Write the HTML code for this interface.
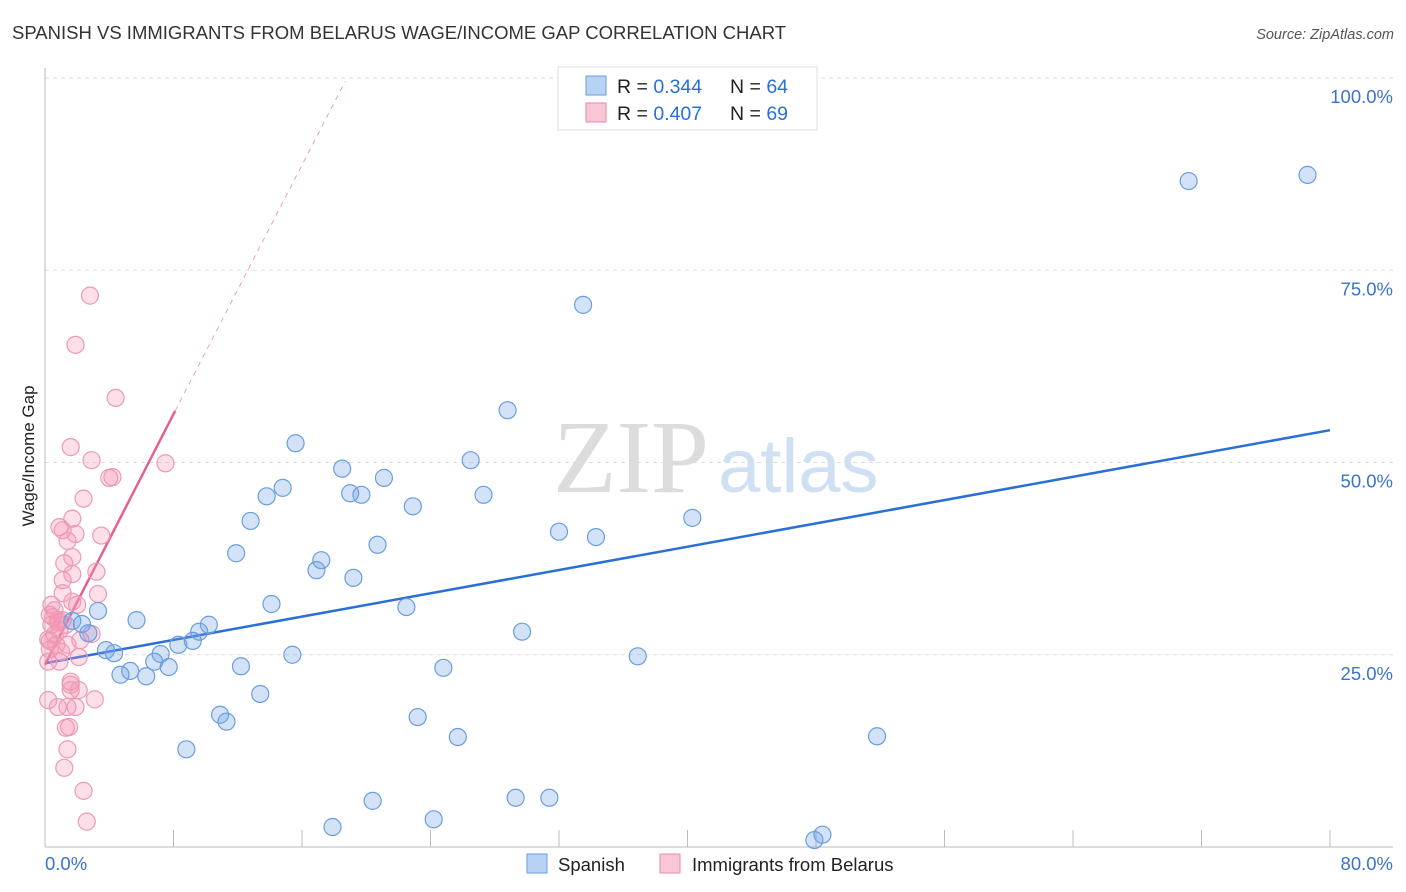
<!DOCTYPE html>
<html><head><meta charset="utf-8"><style>
body{margin:0;background:#fff;font-family:"Liberation Sans",sans-serif;}
svg{display:block}
</style></head><body>
<svg width="1406" height="892" id="chart">
<text x="12" y="39" font-size="18.5" fill="#333">SPANISH VS IMMIGRANTS FROM BELARUS WAGE/INCOME GAP CORRELATION CHART</text>
<text x="1394" y="39" font-size="14.5" fill="#555" font-style="italic" text-anchor="end">Source: ZipAtlas.com</text>
<text x="553" y="492" font-size="104" fill="#dcdcdc" font-family="Liberation Serif,serif">ZIP</text>
<text x="718" y="492" font-size="76" fill="#d0e0f4">atlas</text>
<text transform="translate(34,456) rotate(-90)" font-size="17" fill="#222" text-anchor="middle">Wage/Income Gap</text>
<g id="grid"></g><g id="ticks"></g><g id="lines"></g><g id="pts"></g>
<g>
<rect x="558" y="67" width="259" height="63" fill="#fff" stroke="#ddd"/>
<rect x="586" y="76" width="20" height="19" fill="#b8d2f4" stroke="#6a9ee0"/>
<rect x="586" y="103" width="20" height="19" fill="#f9c6d6" stroke="#e88aa8"/>
<text x="617" y="93" font-size="19.5" fill="#222">R = <tspan fill="#2a6fd6">0.344</tspan></text>
<text x="730" y="93" font-size="19.5" fill="#222">N = <tspan fill="#2a6fd6">64</tspan></text>
<text x="617" y="120" font-size="19.5" fill="#222">R = <tspan fill="#2a6fd6">0.407</tspan></text>
<text x="730" y="120" font-size="19.5" fill="#222">N = <tspan fill="#2a6fd6">69</tspan></text>
</g>
<g>
<rect x="527" y="854" width="20" height="19" fill="#b8d2f4" stroke="#6a9ee0"/>
<text x="558" y="871" font-size="18.5" fill="#222">Spanish</text>
<rect x="660" y="854" width="20" height="19" fill="#f9c6d6" stroke="#e88aa8"/>
<text x="692" y="871" font-size="18.5" fill="#222">Immigrants from Belarus</text>
</g>
<text x="45" y="870" font-size="18.5" fill="#3a72d0">0.0%</text>
<text x="1393" y="870" font-size="18.5" fill="#3a72d0" text-anchor="end">80.0%</text>
</svg>
<script>
const yTicks=[25,50,75,100];
const yTickLabels=["25.0%","50.0%","75.0%","100.0%"];
const blueX=[71.2,78.6,33.5,28.8,15.6,18.5,21.1,26.5,19.7,19.0,14.8,13.8,22.9,27.3,12.8,32.0,34.3,40.3,11.9,20.7,17.2,16.9,19.2,14.1,22.5,3.3,5.7,10.2,9.6,9.2,8.3,2.7,1.7,2.3,29.7,3.8,4.3,7.2,6.8,7.7,15.4,12.2,5.3,4.7,6.3,24.8,36.9,13.4,10.9,11.3,23.2,25.7,8.8,51.8,20.4,29.3,31.4,24.2,17.9,48.4,47.9];
const blueY=[86.6,87.4,70.5,56.8,52.5,49.2,48.0,50.3,45.8,46.0,46.7,45.6,44.3,45.8,42.4,41.0,40.3,42.8,38.2,39.3,37.3,36.0,35.0,31.6,31.2,30.7,29.5,28.9,28.0,26.8,26.3,27.8,29.4,29.0,28.0,25.6,25.2,25.1,24.1,23.4,25.0,23.5,22.9,22.4,22.2,23.3,24.8,19.9,17.2,16.3,16.9,14.3,12.7,14.4,6.0,6.4,6.4,3.6,2.6,1.6,0.9];
const pinkX=[2.8,1.9,4.4,1.6,7.5,2.9,4.0,4.2,2.4,0.9,1.1,1.9,3.5,1.7,1.4,1.7,1.2,3.2,1.7,1.1,3.3,1.1,1.7,2.0,0.4,0.6,0.3,0.8,0.4,0.9,0.6,0.2,0.7,0.3,1.1,1.3,2.9,2.2,1.4,2.1,0.2,0.9,1.6,1.6,1.6,2.1,3.1,0.2,0.8,1.4,1.9,1.3,1.5,1.4,1.2,2.4,2.6,0.5,0.8,1.0,0.3];
const pinkY=[71.7,65.3,58.4,52.0,49.9,50.3,48.0,48.1,45.3,41.6,41.2,40.7,40.5,42.7,39.8,37.7,36.9,35.8,35.5,34.7,32.9,33.0,31.9,31.5,31.5,30.8,30.2,29.5,28.9,28.2,27.6,27.0,26.3,25.7,29.5,28.9,27.7,26.9,26.3,24.7,24.1,24.1,21.5,21.1,20.4,20.4,19.2,19.1,18.2,18.2,18.2,15.5,15.6,12.7,10.3,7.3,3.3,29.9,29.2,25.4,26.8];
const blueLine=[[0,23.9],[80,54.2]];
const pinkLine=[[0,23.7],[8.1,56.7]];
const pinkDash=[[8.1,56.7],[18.7,99.6]];
const NS="http://www.w3.org/2000/svg";
const X=v=>45+v*1285/80, Y=v=>847-v*7.69;
function mk(t,a,p){const e=document.createElementNS(NS,t);for(const k in a)e.setAttribute(k,a[k]);document.getElementById(p).appendChild(e);return e;}
yTicks.forEach((t,i)=>{
 const g=mk('line',{x1:45,x2:1393,y1:Y(t),y2:Y(t),stroke:'#ddd','stroke-dasharray':'4,4'},'grid');
 
 
 const l=mk('text',{x:1393,y:Y(t)+25,'font-size':18.5,fill:'#3a72d0','text-anchor':'end'},'ticks');
 l.textContent=yTickLabels[i];
 
 
});
mk('line',{x1:45,x2:45,y1:68,y2:847,stroke:'#bbb'},'grid');
mk('line',{x1:45,x2:1393,y1:847,y2:847,stroke:'#bbb'},'grid');
for(let i=1;i<=10;i++){const tk=mk('line',{x1:X(i*8),x2:X(i*8),y1:830,y2:847,stroke:'#bbb'},'grid');
 
 }
function pts(xs,ys,fill,stroke,name){xs.forEach((x,i)=>{
 const c=mk('circle',{cx:X(x),cy:Y(ys[i]),r:8.5,fill:fill,stroke:stroke,'stroke-width':1.2},'pts');
 
 
});}
pts(pinkX,pinkY,'rgba(244,150,180,0.3)','#ec9ab4','belarus-point');
pts(blueX,blueY,'rgba(110,160,230,0.3)','#6a9ee0','spanish-point');
function ln(p,col,w,dash,name){const e=mk('line',{x1:X(p[0][0]),y1:Y(p[0][1]),x2:X(p[1][0]),y2:Y(p[1][1]),stroke:col,'stroke-width':w},'lines');
 if(dash)e.setAttribute('stroke-dasharray',dash);
 
 }
ln(blueLine,'#2a6fd6',2.5,null,'spanish-trendline');
ln(pinkLine,'#e8608a',2.5,null,'belarus-trendline');
ln(pinkDash,'#eaa0b8',1,'5,5','belarus-trendline-extension');
</script>
</body></html>
